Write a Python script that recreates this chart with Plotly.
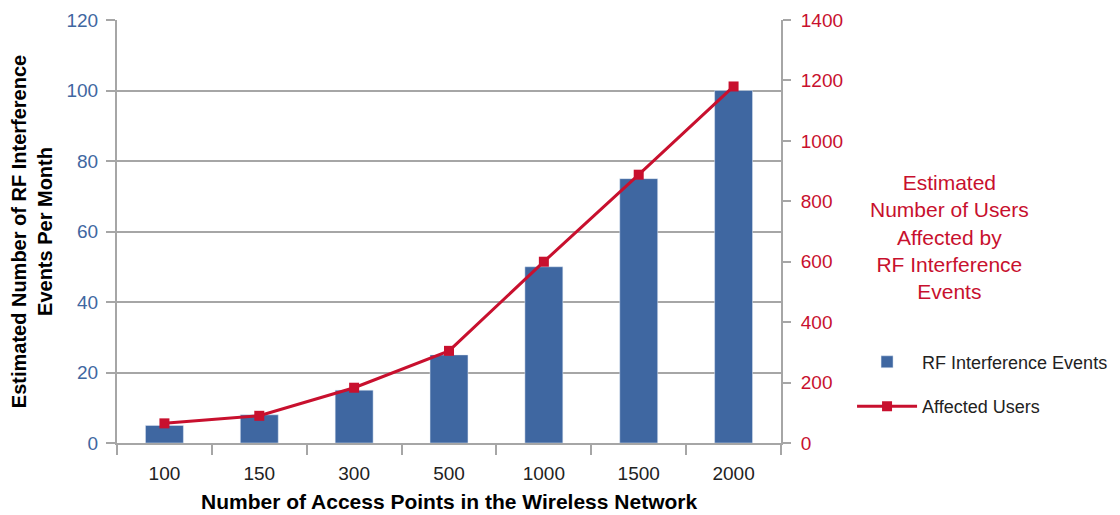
import plotly.graph_objects as go

categories = ["100", "150", "300", "500", "1000", "1500", "2000"]
rf_events = [5, 8, 15, 25, 50, 75, 100]
affected_users = [65, 90, 183, 305, 600, 888, 1180]

BLUE = "#3f67a1"
RED = "#c8102e"
GRID = "#a6a6a6"
FONT = "Liberation Sans"

fig = go.Figure()
fig.add_trace(go.Bar(
    x=categories, y=rf_events, name="RF Interference Events",
    marker=dict(color=BLUE), legendgroup="a", yaxis="y",
))
fig.add_trace(go.Scatter(
    x=categories, y=affected_users, name="Affected Users",
    mode="lines+markers", line=dict(color=RED, width=3),
    marker=dict(symbol="square", size=10, color=RED),
    legendgroup="b", yaxis="y2",
))

fig.update_layout(
    width=1120, height=507,
    margin=dict(l=109, r=347, t=12, b=72),
    plot_bgcolor="white", paper_bgcolor="white",
    font=dict(family=FONT, size=18, color="black"),
    bargap=0.6,
    showlegend=True,
    legend=dict(x=1.107, y=0.235, xanchor="left", yanchor="top",
                font=dict(size=18, color="#222222"), tracegroupgap=18,
                itemwidth=60, bgcolor="rgba(0,0,0,0)", borderwidth=0),
    xaxis=dict(
        type="category", showline=True, linecolor=GRID, linewidth=2,
        ticks="outside", tickson="boundaries", ticklen=10, tickcolor=GRID, tickwidth=2,
        tickfont=dict(size=19, color="#222222"), automargin=False,
        ticklabelstandoff=12,
        showgrid=False,
    ),
    yaxis=dict(
        range=[0, 120], dtick=20, showline=True, linecolor=GRID, linewidth=2,
        ticks="outside", ticklen=9, tickcolor=GRID, tickwidth=2,
        tickfont=dict(size=19, color=BLUE), automargin=False,
        ticklabelstandoff=4,
        showgrid=True, gridcolor=GRID, gridwidth=1.5,
        zeroline=False,
        title=dict(text="<b>Estimated Number of RF Interference<br>Events Per Month</b>",
                   font=dict(size=20, color="black"), standoff=12),
    ),
    yaxis2=dict(
        range=[0, 1400], dtick=200, overlaying="y", side="right",
        showline=True, linecolor=GRID, linewidth=2, automargin=False,
        ticks="outside", ticklen=8, tickcolor=GRID, tickwidth=2,
        ticklabelstandoff=6,
        tickfont=dict(size=19, color=RED), showgrid=False, zeroline=False,
    ),
    annotations=[
        dict(
            text="Estimated<br>Number of Users<br>Affected by<br>RF Interference<br>Events",
            xref="paper", yref="paper", x=1.2545, y=0.487, xanchor="center", yanchor="middle",
            showarrow=False, font=dict(size=21, color=RED), align="center",
        ),
        dict(
            text="<b>Number of Access Points in the Wireless Network</b>",
            xref="paper", yref="paper", x=0.5, y=-0.138, xanchor="center", yanchor="middle",
            showarrow=False, font=dict(size=21, color="black"),
        ),
    ],
)

fig.write_html("out.html")
